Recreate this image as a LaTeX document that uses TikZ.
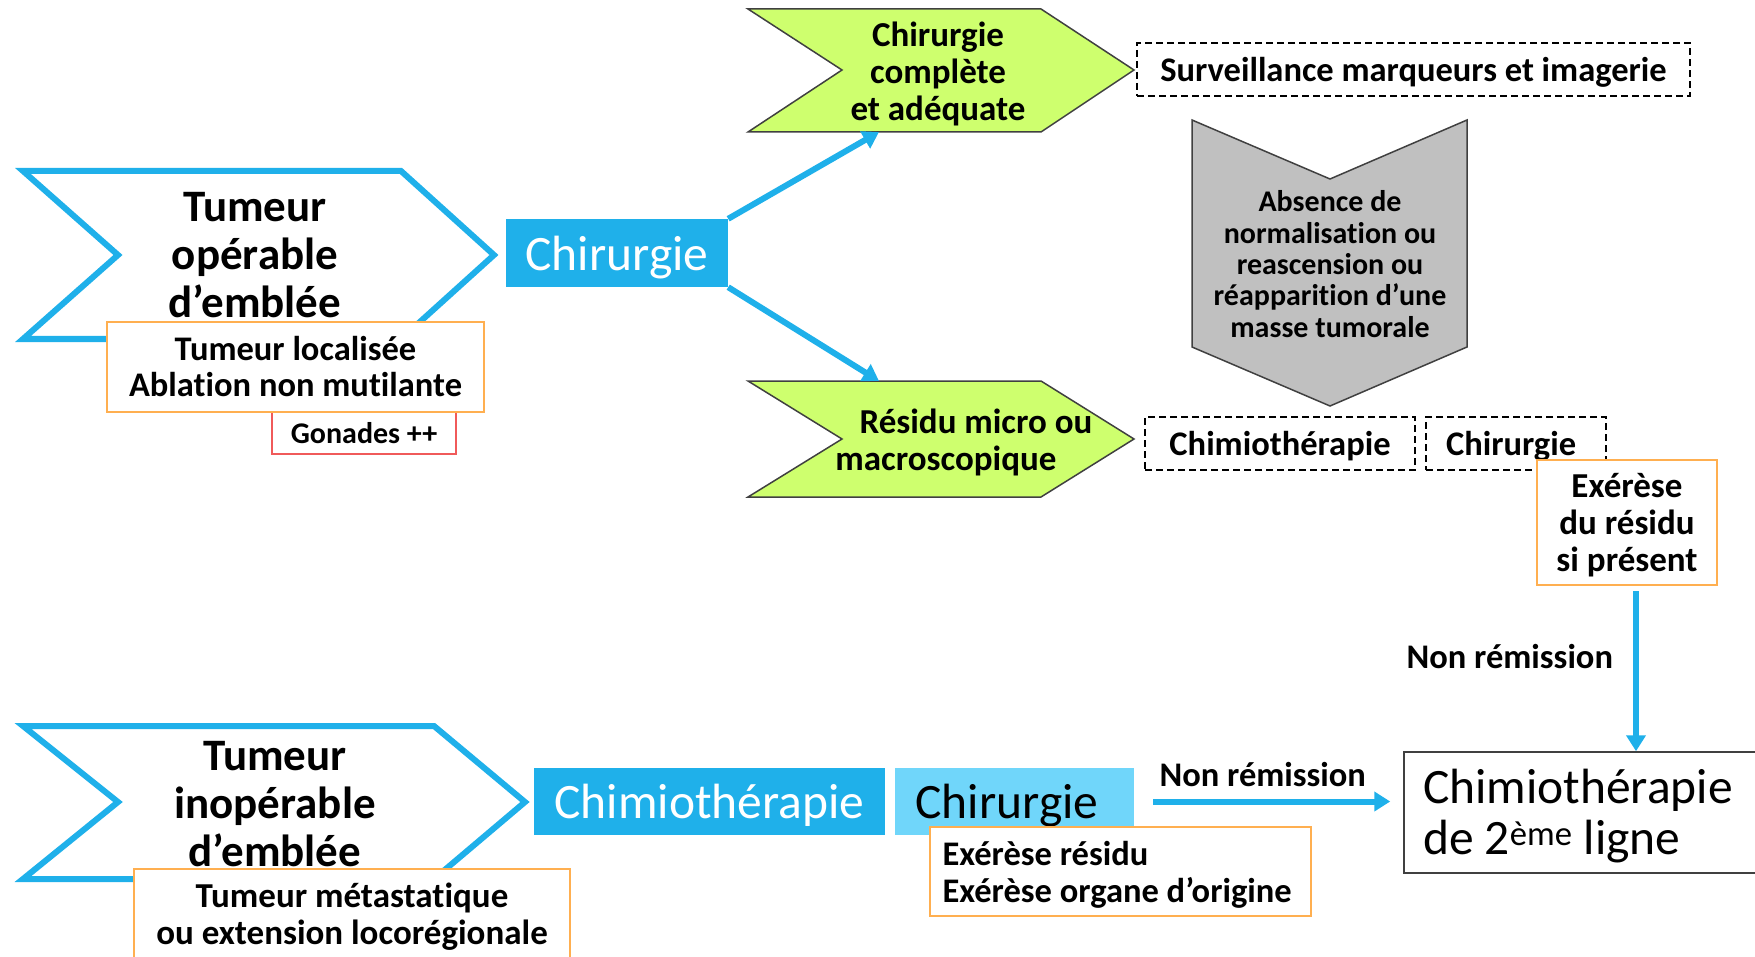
\documentclass[tikz,border=0pt]{standalone}
\usepackage{fontspec}
\setmainfont{Carlito}[Ligatures=NoCommon]
\usepackage{tikz}
\usetikzlibrary{positioning}
\usetikzlibrary{arrows.meta}

\definecolor{ciel}{RGB}{31,176,234}
\definecolor{cielclair}{RGB}{112,214,250}
\definecolor{vertpomme}{RGB}{206,255,110}
\definecolor{orangebord}{RGB}{255,175,80}
\definecolor{rougebord}{RGB}{240,90,90}
\definecolor{grisfonce}{RGB}{64,64,64}
\definecolor{grischevron}{RGB}{192,192,192}

\newcommand{\titregras}{\fontsize{45}{47.6}\selectfont\bfseries}
\newcommand{\boitegras}{\fontsize{34.5}{36}\selectfont\bfseries}
\newcommand{\vertgras}{\fontsize{35}{37}\selectfont\bfseries}
\newcommand{\grisgras}{\fontsize{30}{31.3}\selectfont\bfseries}
\newcommand{\grandtexte}{\fontsize{49.5}{51}\selectfont}

\tikzset{
	bleu/.style={fill=ciel, text=white, inner sep=0pt, text depth=0pt, font=\grandtexte},
	cadre/.style={draw=orangebord, fill=white, line width=1.6pt, inner sep=0pt, font=\boitegras, align=center},
	pointille/.style={draw=black, dash pattern=on 7pt off 4pt, line width=2.6pt, inner sep=0pt, text depth=0pt, font=\boitegras},
	fleche/.style={draw=ciel, line width=6pt, -{Triangle[length=16pt,width=19pt]}},
	contour/.style={draw=ciel, line width=6pt, fill=white},
	vert/.style={draw=grisfonce, line width=1.5pt, fill=vertpomme},
}

\begin{document}
\begin{tikzpicture}[x=1pt,y=-1pt]
	\useasboundingbox (0,0) rectangle (1755,957);
	\clip (0,0) rectangle (1755,957);

	\draw[contour] (23,171) -- (401,171) -- (494,255) -- (401,339) -- (23,339) -- (118,255) -- cycle;
	\node[font=\titregras, align=center] (tumA) at (255,255) {Tumeur\\opérable\\d’emblée};
	\node[draw=rougebord, line width=1.6pt, fill=white, minimum width=184pt, minimum height=42pt, inner sep=0pt, font=\fontsize{30}{32}\selectfont\bfseries] (gonades) at (364,433) {Gonades ++};
	\node[cadre, minimum width=377pt, minimum height=90pt] (localisee) at (295.5,367) {Tumeur localisée\\Ablation non mutilante};
	\node[bleu, minimum width=222pt, minimum height=68pt] (chirA) at (617,253) {Chirurgie};

	\draw[vert] (748,9) -- (1041,9) -- (1134,70) -- (1041,132) -- (748,132) -- (842,70) -- cycle;
	\node[font=\vertgras, align=center] (verteA) at (938,73.5) {Chirurgie\\complète\\et adéquate};
	\draw[vert] (748,381) -- (1041,381) -- (1134,439) -- (1041,497) -- (748,497) -- (842,439) -- cycle;
	\node[font=\vertgras, align=center] (verteB) at (946,442.5) {\hspace*{60pt}Résidu micro ou\\macroscopique};
	\coordinate (versA) at (879,132);
	\coordinate (versB) at (879,381);
	\draw[fleche] (chirA.north east) -- (versA);
	\draw[fleche] (chirA.south east) -- (versB);

	\node[pointille, minimum width=553pt, minimum height=53pt] (surveillance) at (1413.5,69.5) {Surveillance marqueurs et imagerie};
	\draw[draw=grisfonce, line width=1.5pt, fill=grischevron] (1192,120) -- (1330,179) -- (1467,120) -- (1467,347) -- (1330,406) -- (1192,347) -- cycle;
	\node[font=\grisgras, align=center] (grise) at (1330,264) {Absence de\\normalisation ou\\reascension ou\\réapparition d’une\\masse tumorale};
	\node[pointille, minimum width=270pt, minimum height=53pt] (chimioA) at (1280,443.5) {Chimiothérapie};
	\node[pointille, minimum width=180pt, minimum height=53pt, inner xsep=20pt, text width=140pt, align=flush left] (chirB) at (1516,443.5) {Chirurgie};
	\node[cadre, minimum width=180pt, minimum height=125pt, text depth=0pt, font=\vertgras] (exerese) at (1627,522.5) {Exérèse\\du résidu\\si présent};

	\draw[contour] (23,726) -- (434,726) -- (525,802) -- (434,879) -- (23,879) -- (118,802) -- cycle;
	\node[font=\titregras, align=center] (tumB) at (275,804) {Tumeur\\inopérable\\d’emblée};
	\node[cadre, minimum width=436pt, minimum height=96pt, font=\vertgras] (metastase) at (352,917) {Tumeur métastatique\\ou extension locorégionale};
	\node[bleu, minimum width=351pt, minimum height=67pt] (chimioB) at (709.5,801.5) {Chimiothérapie};
	\node[fill=cielclair, minimum height=67pt, inner ysep=0pt, inner xsep=20.5pt, text width=198pt, text depth=0pt, align=flush left, font=\grandtexte] (chirC) at (1014.5,801.5) {Chirurgie};
	\node[cadre, minimum height=89pt, inner xsep=12.5pt, text width=356pt, text depth=37pt, align=flush left, font=\fontsize{34.5}{37}\selectfont\bfseries] (exereseB) at (1120.5,871.5) {Exérèse résidu\\Exérèse organe d’origine};
	\node[draw=grisfonce, line width=1.5pt, minimum height=121pt, inner ysep=0pt, inner xsep=19pt, text width=323pt, text depth=53pt, align=flush left, font=\grandtexte] (ligne2) at (1584.5,812.5) {Chimiothérapie\\de 2\textsuperscript{ème} ligne};

	\draw[fleche, shorten <=19pt, shorten >=13pt] (chirC.east) -- (ligne2.west |- chirC.east) node[midway, above=12pt, xshift=-6pt, inner sep=0pt, font=\boitegras] {Non rémission};
	\coordinate (basE) at (1636,585);
	\draw[fleche, shorten <=6pt] (basE) -- (basE |- ligne2.north) node[pos=0.43, left=20pt, inner sep=0pt, font=\boitegras] {Non rémission};
\end{tikzpicture}
\end{document}
